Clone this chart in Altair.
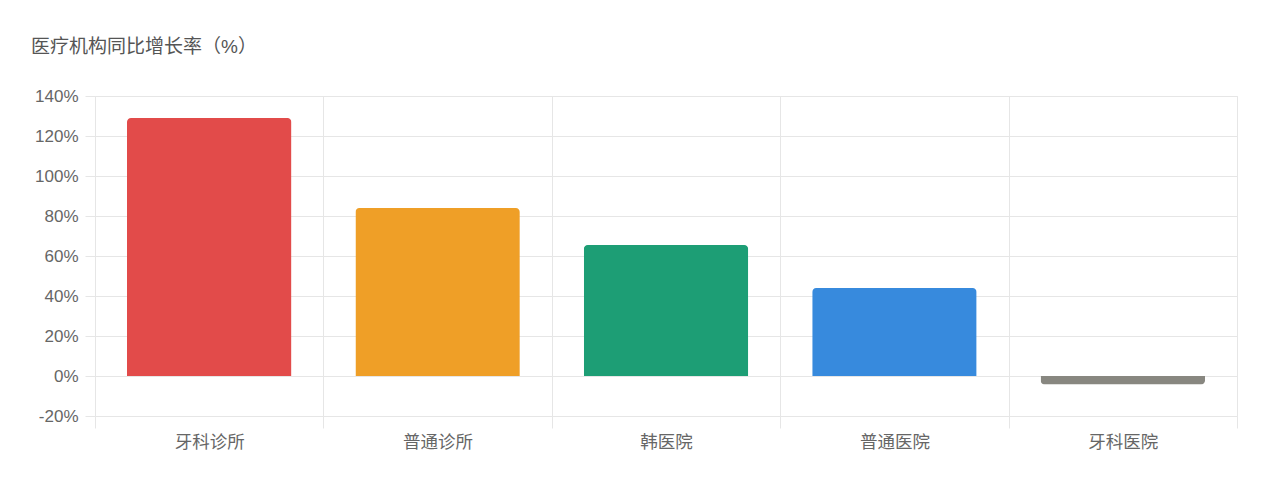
import altair as alt
import pandas as pd

categories = ["牙科诊所", "普通诊所", "韩医院", "普通医院", "牙科医院"]
growth = [129, 84, 65.5, 44, -4.3]
colors = ["#E24B4A", "#EF9F27", "#1D9E75", "#378ADD", "#888780"]
y_ticks = [-20, 0, 20, 40, 60, 80, 100, 120, 140]

df = pd.DataFrame({"机构": categories, "增长率": growth})

FONT = "Liberation Sans, Noto Sans CJK SC, sans-serif"
GRID = "#e6e6e6"

x_enc = alt.X(
    "机构:N",
    sort=categories,
    scale=alt.Scale(paddingInner=0, paddingOuter=0),
    axis=alt.Axis(
        title=None,
        labelAngle=0,
        tickBand="extent",
        domain=False,
        grid=True,
        gridColor=GRID,
        tickColor=GRID,
        tickSize=12,
        labelPadding=5,
        labelFontSize=17.5,
        labelColor="#666666",
        labelFont=FONT,
    ),
)
y_enc = alt.Y(
    "增长率:Q",
    scale=alt.Scale(domain=[-20, 140], nice=False),
    axis=alt.Axis(
        title=None,
        values=y_ticks,
        labelExpr="datum.value + '%'",
        domain=False,
        gridColor=GRID,
        tickColor=GRID,
        tickSize=10,
        labelPadding=7,
        labelFontSize=17,
        labelColor="#666666",
        labelFont=FONT,
    ),
)
c_enc = alt.Color(
    "机构:N",
    scale=alt.Scale(domain=categories, range=colors),
    legend=None,
)

base = alt.Chart(df).encode(x=x_enc, y=y_enc, color=c_enc)

pos = base.transform_filter("datum['增长率'] >= 0").mark_bar(
    width=alt.RelativeBandSize(0.72), cornerRadiusTopLeft=4, cornerRadiusTopRight=4
)
neg = base.transform_filter("datum['增长率'] < 0").mark_bar(
    width=alt.RelativeBandSize(0.72), cornerRadiusBottomLeft=4, cornerRadiusBottomRight=4
)

chart = (
    alt.layer(pos, neg)
    .properties(
        width=1142,
        height=320,
        title=alt.TitleParams(
            "医疗机构同比增长率（%）",
            anchor="start",
            frame="group",
            dx=-64,
            offset=30,
            fontSize=19,
            fontWeight="normal",
            color="#555555",
            font=FONT,
        ),
        autosize=alt.AutoSizeParams(type="none"),
        padding={"left": 87, "top": 88, "right": 23, "bottom": 68},
    )
    .configure_view(stroke=GRID)
)

chart.save("out.html", embed_options={"renderer": "svg", "actions": False})
